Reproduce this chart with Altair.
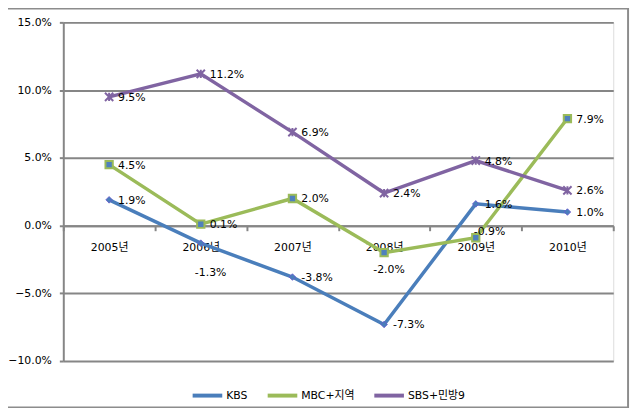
import altair as alt
import pandas as pd

years = ["2005년", "2006년", "2007년", "2008년", "2009년", "2010년"]
series_names = ["KBS", "MBC+지역", "SBS+민방9"]
kbs = [1.9, -1.3, -3.8, -7.3, 1.6, 1.0]
mbc = [4.5, 0.1, 2.0, -2.0, -0.9, 7.9]
sbs = [9.5, 11.2, 6.9, 2.4, 4.8, 2.6]
y_ticks = [-10, -5, 0, 5, 10, 15]

colors = ["#4A7EBB", "#9BBB59", "#8064A2"]
GRID = "#868686"
FONT = "DejaVu Sans, Noto Sans CJK KR"

rows = []
for name, vals in zip(series_names, [kbs, mbc, sbs]):
    for y, v in zip(years, vals):
        rows.append({"year": y, "series": name, "value": v, "label": f"{v:.1f}%"})
df = pd.DataFrame(rows)

W, H = 557, 343

x = alt.X(
    "year:N", sort=years, bandPosition=0.5,
    scale=alt.Scale(type="band", paddingInner=0, paddingOuter=0, domain=years),
    axis=alt.Axis(title=None, offset=-137, tickBand="extent", domainColor=GRID,
                  domainWidth=2, tickColor=GRID, tickWidth=2, tickSize=5,
                  labelPadding=11, labelFont=FONT, labelFontSize=11,
                  labelColor="black", labelAngle=0, grid=False),
)
y = alt.Y(
    "value:Q",
    scale=alt.Scale(domain=[-10, 15], nice=False, zero=False),
    axis=alt.Axis(title=None, values=y_ticks,
                  labelExpr="format(datum.value, '.1f') + '%'",
                  gridColor=GRID, gridWidth=2, domainColor=GRID, domainWidth=2,
                  tickColor=GRID, tickWidth=2, tickSize=4, labelPadding=8,
                  labelFont=FONT, labelFontSize=11, labelColor="black"),
)

base = alt.Chart(df)

border = alt.Chart(alt.Data(values=[{"k": 0}])).mark_rect(
    fillOpacity=0, stroke="#8C8C8C", strokeWidth=2
).encode(x=alt.value(-58), x2=alt.value(572), y=alt.value(-14), y2=alt.value(390))

lines = base.mark_line(strokeWidth=3.5).encode(
    x=x, y=y,
    color=alt.Color("series:N", sort=series_names,
                    scale=alt.Scale(domain=series_names, range=colors),
                    legend=alt.Legend(orient="none", legendX=129, legendY=361,
                                      direction="horizontal", title=None,
                                      symbolType="stroke", symbolStrokeWidth=4,
                                      symbolSize=900, labelFont=FONT,
                                      labelFontSize=11, labelColor="black",
                                      columnPadding=12, labelOffset=2)),
)

m_kbs = base.transform_filter(alt.datum.series == "KBS").mark_point(
    shape="diamond", filled=True, size=45, fill="#4A7EBB", stroke="#6A5ACD",
    strokeWidth=0.8, opacity=1
).encode(x=x, y=y)
m_mbc = base.transform_filter(alt.datum.series == "MBC+지역").mark_point(
    shape="square", filled=True, size=55, fill="#4F81BD", stroke="#9BBB59",
    strokeWidth=2, opacity=1
).encode(x=x, y=y)
m_sbs = base.transform_filter(alt.datum.series == "SBS+민방9").mark_point(
    shape="M-1,-1L1,1M-1,1L1,-1M0,-1L0,1", filled=False, size=70,
    stroke="#8064A2", strokeWidth=2, opacity=1
).encode(x=x, y=y)

special = ("(datum.series == 'KBS' && datum.year == '2006년') || "
           "(datum.series == 'MBC+지역' && datum.year == '2008년') || "
           "(datum.series == 'MBC+지역' && datum.year == '2009년')")

def txt(filt, dx, dy):
    return base.transform_filter(filt).mark_text(
        align="left", baseline="middle", dx=dx, dy=dy, font=FONT,
        fontSize=11, color="black"
    ).encode(x=x, y=y, text="label:N")

t_norm = txt(f"!({special})", 9, 1)
t_k06 = txt("datum.series == 'KBS' && datum.year == '2006년'", -6, 30)
t_m08 = txt("datum.series == 'MBC+지역' && datum.year == '2008년'", -11, 18)
t_m09 = txt("datum.series == 'MBC+지역' && datum.year == '2009년'", -2, -6)

chart = alt.layer(
    border, lines, m_kbs, m_mbc, m_sbs, t_norm, t_k06, t_m08, t_m09
).properties(
    width=W, height=H, autosize="none",
    padding={"left": 56, "top": 12, "right": 20, "bottom": 45},
).configure_view(strokeWidth=0).configure(background="white")

chart.save("out.html", embed_options={"renderer": "svg", "actions": False})
